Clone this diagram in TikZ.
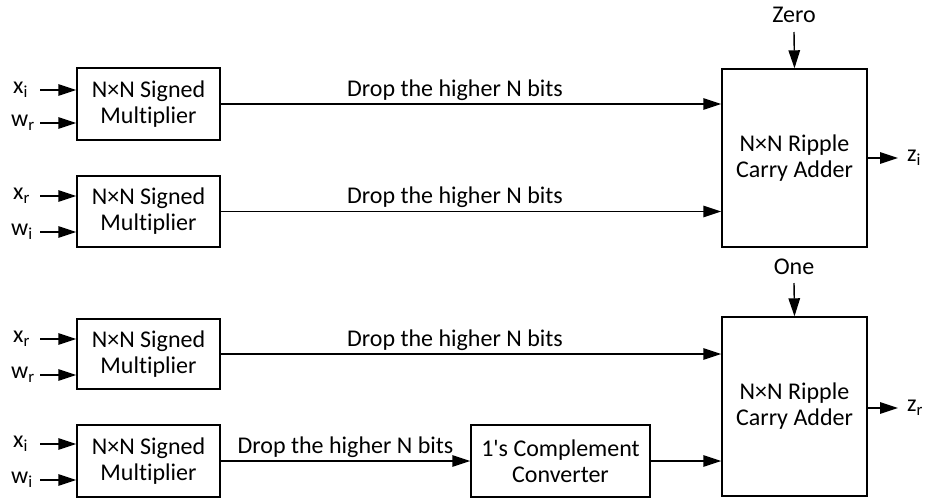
\documentclass[tikz,border=0pt]{standalone}
\usepackage{fontspec}
\setmainfont{Carlito}[Ligatures={NoCommon}]
\usetikzlibrary{arrows.meta}
\begin{document}
\begin{tikzpicture}[x=1pt,y=-1pt,
  every node/.style={font=\fontsize{24}{26}\selectfont},
  blk/.style={draw, line width=1.4pt, align=center, inner sep=0pt},
  mult/.style={blk, minimum width=143pt, minimum height=72pt},
  adder/.style={blk, minimum width=145pt, minimum height=178pt},
  conv/.style={blk, minimum width=179pt, minimum height=72pt},
  arr/.style={line width=1.4pt, -{Triangle[length=18pt,width=11.5pt]}},
  lbl/.style={inner sep=0pt}
]
\useasboundingbox (0,0) rectangle (928,498);

% multipliers
\node[mult] (m1) at (148.5,104) {N×N Signed\\Multiplier};
\node[mult, minimum height=71pt] (m2) at (148.5,211.5) {N×N Signed\\Multiplier};
\node[mult, minimum height=70pt] (m3) at (148.5,354) {N×N Signed\\Multiplier};
\node[mult] (m4) at (148.5,461) {N×N Signed\\Multiplier};

% adders
\node[adder] (a1) at (794.5,158) {N×N Ripple\\Carry Adder};
\node[adder, minimum height=179pt] (a2) at (794.5,406.5) {N×N Ripple\\Carry Adder};

% converter
\node[conv] (cv) at (560.5,461) {1\textquotesingle s Complement\\Converter};

% input labels and coordinates
\node[lbl, anchor=west] (l1) at (13,90) {x\textsubscript{i}};
\node[lbl, anchor=west] (l2) at (11,123) {w\textsubscript{r}};
\node[lbl, anchor=west] (l3) at (13,196) {x\textsubscript{r}};
\node[lbl, anchor=west] (l4) at (11,232) {w\textsubscript{i}};
\node[lbl, anchor=west] (l5) at (13,339) {x\textsubscript{r}};
\node[lbl, anchor=west] (l6) at (11,375) {w\textsubscript{r}};
\node[lbl, anchor=west] (l7) at (13,444) {x\textsubscript{i}};
\node[lbl, anchor=west] (l8) at (11,480) {w\textsubscript{i}};

\coordinate (s1) at (40,90);
\coordinate (s2) at (40,123);
\coordinate (s3) at (40,196);
\coordinate (s4) at (40,232);
\coordinate (s5) at (40,339);
\coordinate (s6) at (40,375);
\coordinate (s7) at (40,444);
\coordinate (s8) at (40,480);

\draw[arr] (s1) -- (s1 -| m1.west);
\draw[arr] (s2) -- (s2 -| m1.west);
\draw[arr] (s3) -- (s3 -| m2.west);
\draw[arr] (s4) -- (s4 -| m2.west);
\draw[arr] (s5) -- (s5 -| m3.west);
\draw[arr] (s6) -- (s6 -| m3.west);
\draw[arr] (s7) -- (s7 -| m4.west);
\draw[arr] (s8) -- (s8 -| m4.west);

% multiplier outputs
\draw[arr] (m1.east) -- node[above, pos=0.468, inner sep=3pt] {Drop the higher N bits} (m1.east -| a1.west);
\draw[arr] (m2.east) -- node[above, pos=0.468, inner sep=3pt] {Drop the higher N bits} (m2.east -| a1.west);
\draw[arr] (m3.east) -- node[above, pos=0.468, inner sep=3pt] {Drop the higher N bits} (m3.east -| a2.west);
\draw[arr] (m4.east) -- node[above, pos=0.5, inner sep=3pt] {Drop the higher N bits} (cv.west);
\draw[arr] (cv.east) -- (cv.east -| a2.west);

% carry inputs
\node[lbl] (zero) at (794,15) {Zero};
\node[lbl] (one) at (794,267) {One};
\coordinate (c1) at (794,32);
\coordinate (c2) at (794,283);
\draw[arr] (c1) -- (a1.north);
\draw[arr] (c2) -- (a2.north);

% outputs
\coordinate (o1) at (898,158);
\coordinate (o2) at (898,408);
\draw[arr] (a1.east |- o1) -- (o1);
\draw[arr] (a2.east |- o2) -- (o2);
\node[lbl, anchor=west] (zi) at (907,158) {z\textsubscript{i}};
\node[lbl, anchor=west] (zr) at (907,408) {z\textsubscript{r}};
\end{tikzpicture}
\end{document}
